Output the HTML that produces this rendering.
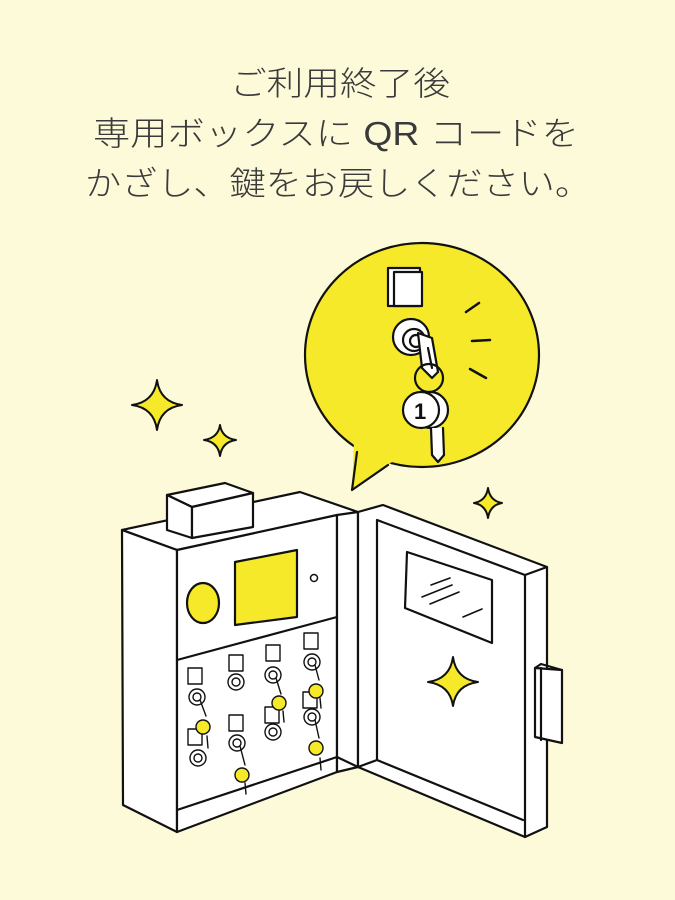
<!DOCTYPE html>
<html><head><meta charset="utf-8"><style>
html,body{margin:0;padding:0;background:#fdfad9;}
svg{display:block}
text{font-family:"Liberation Sans","Noto Sans CJK JP",sans-serif;fill:#3a3a3a;font-weight:300}
</style></head><body>
<svg width="675" height="900" viewBox="0 0 675 900" xmlns="http://www.w3.org/2000/svg">
<rect width="675" height="900" fill="#fdfad9"/>
<text x="340" y="95" font-size="33" text-anchor="middle" textLength="220" lengthAdjust="spacingAndGlyphs">ご利用終了後</text>
<text x="336" y="145" font-size="33" text-anchor="middle" textLength="486" lengthAdjust="spacingAndGlyphs">専用ボックスに QR コードを</text>
<text x="338" y="195" font-size="33" text-anchor="middle" textLength="506" lengthAdjust="spacingAndGlyphs">かざし、鍵をお戻しください。</text>

<g stroke="#111" stroke-width="2.2" stroke-linejoin="round" stroke-linecap="round">
<!-- speech bubble -->
<ellipse cx="422" cy="355" rx="117" ry="112" fill="#f5e92a"/>
<path d="M354,440 L352,490 L392,462 L380,450 Z" fill="#f5e92a" stroke="none"/>
<path d="M357,452 L352,490 L388,465" fill="none"/>
<!-- QR reader -->
<rect x="388" y="268" width="32" height="38" fill="#fff"/>
<rect x="394" y="272" width="28" height="34" fill="#fff"/>
<!-- lock -->
<circle cx="411" cy="337" r="18" fill="#fff"/>
<circle cx="414" cy="340" r="11" fill="#fff"/>
<circle cx="416" cy="341" r="6" fill="#fff"/>
<path d="M418,333 L432,338 L438,372 L432,378 L422,368 Z" fill="#fff"/>
<path d="M428,348 L432,368" />
<circle cx="429" cy="378" r="14" fill="none"/>
<!-- tag -->
<circle cx="430" cy="410" r="18" fill="#fff"/>
<circle cx="421" cy="410" r="18" fill="#fff"/>
<text x="414" y="419" font-size="22" style="fill:#111;font-weight:bold;stroke:none">1</text>
<path d="M431,428 L432,455 L438,462 L444,455 L443,428" fill="#fff"/>
<path d="M466,312 L479,303 M472,341 L490,340 M470,369 L486,378" stroke-width="2.5"/>

<!-- stars -->
<g fill="#f5e92a" stroke-width="2">
<path d="M157,380 Q160,402 182,405 Q160,408 157,430 Q154,408 132,405 Q154,402 157,380Z"/>
<path d="M220,425 Q222,438 236,440 Q222,442 220,456 Q218,442 204,440 Q218,438 220,425Z"/>
<path d="M488,488 Q490,501 502,503 Q490,505 488,518 Q486,505 474,503 Q486,501 488,488Z"/>
</g>

<!-- box body -->
<path d="M122,530 L300,492 L358,512 L177,550 Z" fill="#fff"/>
<path d="M122,530 L177,550 L177,832 L123,805 Z" fill="#fff"/>
<path d="M177,550 L337,515 L337,772 L177,832 Z" fill="#fff"/>
<path d="M337,515 L358,512 L358,767 L337,772 Z" fill="#fff"/>
<path d="M177,810 L337,757 M337,757 L358,767" fill="none"/>
<path d="M177,660 L337,617" fill="none"/>
<!-- top small box -->
<path d="M167,495 L225,483 L253,493 L192,507 Z" fill="#fff"/>
<path d="M167,495 L192,507 L192,538 L167,530 Z" fill="#fff"/>
<path d="M192,507 L253,493 L253,527 L192,538 Z" fill="#fff"/>
<!-- panel -->
<ellipse cx="203" cy="603" rx="16" ry="20" fill="#f5e92a"/>
<path d="M235,562 L297,550 L297,617 L235,625 Z" fill="#f5e92a"/>
<circle cx="314" cy="578" r="3.5" fill="#fff" stroke-width="1.5"/>

<!-- key slots -->
<g stroke-width="1.4" fill="#fff">
<rect x="188" y="668" width="14" height="16"/><rect x="229" y="655" width="14" height="16"/>
<rect x="266" y="645" width="14" height="16"/><rect x="304" y="633" width="14" height="16"/>
<rect x="229" y="715" width="14" height="16"/><rect x="265" y="707" width="14" height="16"/>
<rect x="303" y="692" width="14" height="16"/><rect x="188" y="729" width="14" height="16"/>
<g>
<circle cx="197" cy="697" r="8"/><circle cx="197" cy="697" r="4"/>
<circle cx="236" cy="682" r="8"/><circle cx="236" cy="682" r="4"/>
<circle cx="273" cy="675" r="8"/><circle cx="273" cy="675" r="4"/>
<circle cx="312" cy="662" r="8"/><circle cx="312" cy="662" r="4"/>
<circle cx="198" cy="758" r="8"/><circle cx="198" cy="758" r="4"/>
<circle cx="237" cy="743" r="8"/><circle cx="237" cy="743" r="4"/>
<circle cx="273" cy="732" r="8"/><circle cx="273" cy="732" r="4"/>
<circle cx="312" cy="717" r="8"/><circle cx="312" cy="717" r="4"/>
</g>
<path d="M200,700 L206,716 M240,746 L245,765 M276,678 L281,694 M315,665 L319,680 M315,720 L319,738" fill="none"/>
<path d="M207,736 L208,748 M245,783 L246,794 M283,711 L284,722 M320,698 L321,708 M320,758 L321,770" fill="none"/>
</g>
<g fill="#f5e92a" stroke-width="1.4">
<circle cx="203" cy="727" r="7"/><circle cx="242" cy="775" r="7"/>
<circle cx="279" cy="703" r="7"/><circle cx="316" cy="691" r="7"/><circle cx="316" cy="748" r="7"/>
</g>

<!-- door -->
<path d="M358,512 L383,505 L547,567 L547,827 L525,837 L358,767 Z" fill="#fff"/>
<path d="M377,520 L525,575 L525,837 M525,575 L547,567 M377,520 L377,760 L358,767 M377,760 L523,820" fill="none"/>
<path d="M407,552 L492,580 L492,643 L405,608 Z" fill="#fff"/>
<path d="M431,585 L450,578 M422,597 L452,585 M430,604 L459,592 M463,617 L482,609" fill="none" stroke-width="1.6"/>
<path d="M535,668 L562,670 L562,743 L535,737 Z" fill="#fff"/>
<path d="M541,668 L541,740 M535,668 L541,664 L562,670" fill="none"/>
<path d="M453,657 Q456,679 478,682 Q456,685 453,706 Q450,685 428,682 Q450,679 453,657Z" fill="#f5e92a" stroke-width="2"/>
</g>
</svg>
</body></html>
